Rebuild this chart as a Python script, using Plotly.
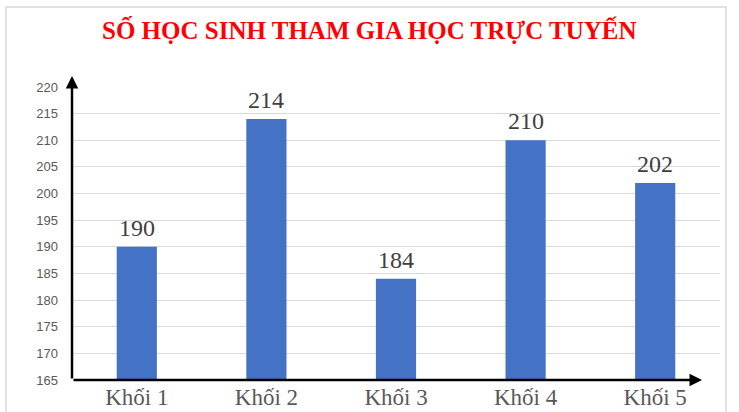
import plotly.graph_objects as go

categories = ["Khối 1", "Khối 2", "Khối 3", "Khối 4", "Khối 5"]
values = [190, 214, 184, 210, 202]
y_ticks = list(range(165, 221, 5))
title = "SỐ HỌC SINH THAM GIA HỌC TRỰC TUYẾN"

W, H = 739, 412
L, R, T, B = 72, 19, 87, 32
pw, ph = W - L - R, H - T - B

fig = go.Figure()
fig.add_trace(go.Bar(
    x=categories, y=values, width=0.31,
    marker=dict(color="#4472C4", line=dict(width=0)),
    hoverinfo="x+y",
))

annotations = []
for c, v in zip(categories, values):
    annotations.append(dict(
        x=c, y=v, xref="x", yref="y", text=str(v), showarrow=False,
        yshift=19, font=dict(family="Liberation Serif", size=24, color="#404040"),
    ))

# axis arrows
annotations.append(dict(
    x=(702 - L) / pw, y=0, xref="paper", yref="paper", text="",
    showarrow=True, ax=-(702 - L), ay=0, axref="pixel", ayref="pixel",
    arrowhead=2, arrowsize=1.0, arrowwidth=2.5, arrowcolor="#000000",
))
annotations.append(dict(
    x=0, y=(380 - 76) / ph, xref="paper", yref="paper", text="",
    showarrow=True, ax=0, ay=(380 - 76), axref="pixel", ayref="pixel",
    arrowhead=2, arrowsize=1.0, arrowwidth=2.5, arrowcolor="#000000",
))

annotations.append(dict(
    text="<b>" + title + "</b>", xref="paper", yref="paper",
    x=(369 - L) / pw, y=(380 - 30) / ph, xanchor="center", yanchor="middle",
    showarrow=False, font=dict(family="Liberation Serif", size=25, color="#FF0000"),
))

shapes = [dict(
    type="rect", xref="paper", yref="paper",
    x0=(6 - L) / pw, x1=(726 - L) / pw, y0=(380 - 420) / ph, y1=(380 - 7) / ph,
    line=dict(color="#D9D9D9", width=1.5), fillcolor="rgba(0,0,0,0)", layer="below",
)]

fig.update_layout(
    width=W, height=H,
    margin=dict(l=L, r=R, t=T, b=B, pad=0, autoexpand=False),
    paper_bgcolor="white", plot_bgcolor="white",
    showlegend=False,
    annotations=annotations, shapes=shapes,
    bargap=0.69,
    xaxis=dict(
        showgrid=False, showline=False, zeroline=False, automargin=False,
        tickfont=dict(family="Liberation Serif", size=23, color="#595959"),
        ticks="", ticklabelstandoff=1,
    ),
    yaxis=dict(
        range=[165, 220], tickvals=y_ticks, automargin=False,
        showgrid=True, gridcolor="#D9D9D9", gridwidth=1,
        showline=False, zeroline=False,
        tickfont=dict(family="Liberation Sans", size=13, color="#595959"),
        ticks="", ticklabelstandoff=13,
    ),
)

fig.write_html(
    "out.html",
    config={"displayModeBar": False},
    post_script="document.body.style.margin='0';document.body.style.overflow='hidden';",
)
